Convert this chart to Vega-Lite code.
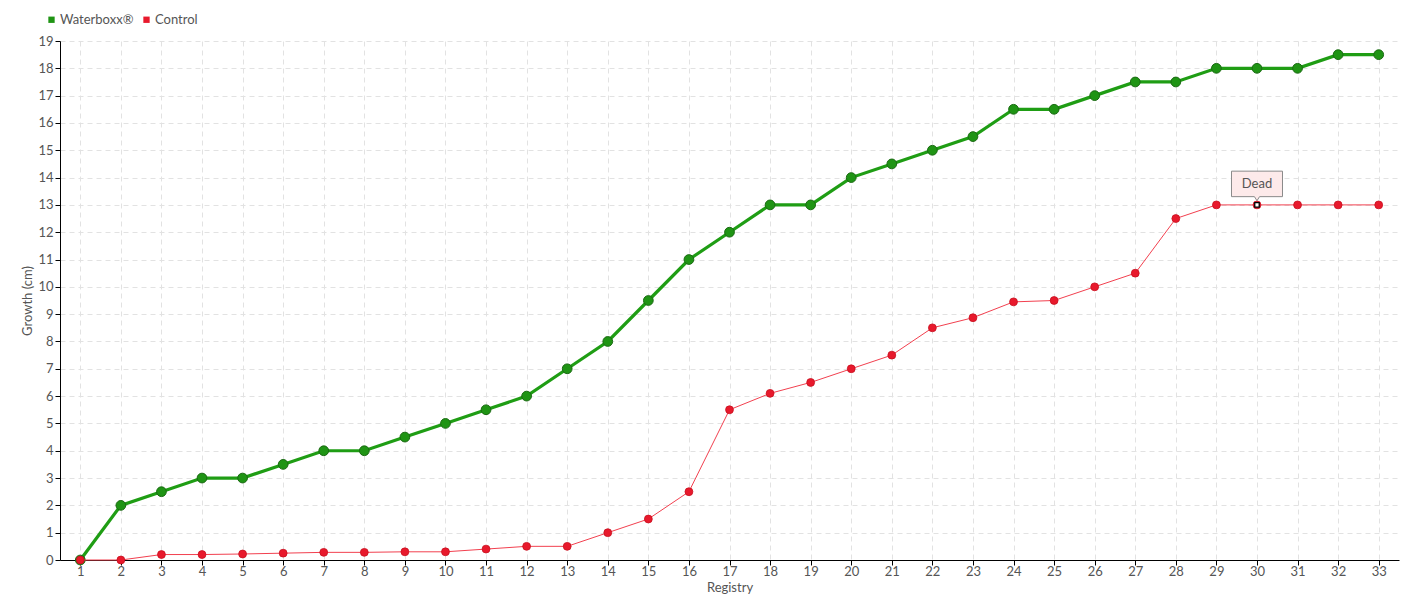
{
  "$schema": "https://vega.github.io/schema/vega-lite/v6.json",
  "autosize": "none",
  "width": 1339,
  "height": 519,
  "padding": {"left": 60, "top": 41, "right": 21, "bottom": 40},
  "background": "white",
  "config": {
    "font": "Lato, sans-serif",
    "view": {"stroke": null},
    "axis": {
      "labelFont": "Lato, sans-serif",
      "titleFont": "Lato, sans-serif",
      "labelColor": "#555555",
      "titleColor": "#555555",
      "labelFontSize": 13,
      "titleFontSize": 13,
      "titleFontWeight": "normal",
      "domainColor": "#000000",
      "tickColor": "#000000",
      "tickSize": 5,
      "gridColor": "#e2e2e2",
      "gridDash": [5, 4],
      "gridWidth": 1
    }
  },
  "data": {
    "values": [
      {"r": 1, "series": "Waterboxx®", "v": 0}, {"r": 2, "series": "Waterboxx®", "v": 2},
      {"r": 3, "series": "Waterboxx®", "v": 2.5}, {"r": 4, "series": "Waterboxx®", "v": 3},
      {"r": 5, "series": "Waterboxx®", "v": 3}, {"r": 6, "series": "Waterboxx®", "v": 3.5},
      {"r": 7, "series": "Waterboxx®", "v": 4}, {"r": 8, "series": "Waterboxx®", "v": 4},
      {"r": 9, "series": "Waterboxx®", "v": 4.5}, {"r": 10, "series": "Waterboxx®", "v": 5},
      {"r": 11, "series": "Waterboxx®", "v": 5.5}, {"r": 12, "series": "Waterboxx®", "v": 6},
      {"r": 13, "series": "Waterboxx®", "v": 7}, {"r": 14, "series": "Waterboxx®", "v": 8},
      {"r": 15, "series": "Waterboxx®", "v": 9.5}, {"r": 16, "series": "Waterboxx®", "v": 11},
      {"r": 17, "series": "Waterboxx®", "v": 12}, {"r": 18, "series": "Waterboxx®", "v": 13},
      {"r": 19, "series": "Waterboxx®", "v": 13}, {"r": 20, "series": "Waterboxx®", "v": 14},
      {"r": 21, "series": "Waterboxx®", "v": 14.5}, {"r": 22, "series": "Waterboxx®", "v": 15},
      {"r": 23, "series": "Waterboxx®", "v": 15.5}, {"r": 24, "series": "Waterboxx®", "v": 16.5},
      {"r": 25, "series": "Waterboxx®", "v": 16.5}, {"r": 26, "series": "Waterboxx®", "v": 17},
      {"r": 27, "series": "Waterboxx®", "v": 17.5}, {"r": 28, "series": "Waterboxx®", "v": 17.5},
      {"r": 29, "series": "Waterboxx®", "v": 18}, {"r": 30, "series": "Waterboxx®", "v": 18},
      {"r": 31, "series": "Waterboxx®", "v": 18}, {"r": 32, "series": "Waterboxx®", "v": 18.5},
      {"r": 33, "series": "Waterboxx®", "v": 18.5},
      {"r": 1, "series": "Control", "v": 0}, {"r": 2, "series": "Control", "v": 0},
      {"r": 3, "series": "Control", "v": 0.2}, {"r": 4, "series": "Control", "v": 0.2},
      {"r": 5, "series": "Control", "v": 0.22}, {"r": 6, "series": "Control", "v": 0.25},
      {"r": 7, "series": "Control", "v": 0.28}, {"r": 8, "series": "Control", "v": 0.28},
      {"r": 9, "series": "Control", "v": 0.3}, {"r": 10, "series": "Control", "v": 0.3},
      {"r": 11, "series": "Control", "v": 0.4}, {"r": 12, "series": "Control", "v": 0.5},
      {"r": 13, "series": "Control", "v": 0.5}, {"r": 14, "series": "Control", "v": 1},
      {"r": 15, "series": "Control", "v": 1.5}, {"r": 16, "series": "Control", "v": 2.5},
      {"r": 17, "series": "Control", "v": 5.5}, {"r": 18, "series": "Control", "v": 6.1},
      {"r": 19, "series": "Control", "v": 6.5}, {"r": 20, "series": "Control", "v": 7},
      {"r": 21, "series": "Control", "v": 7.5}, {"r": 22, "series": "Control", "v": 8.5},
      {"r": 23, "series": "Control", "v": 8.87}, {"r": 24, "series": "Control", "v": 9.45},
      {"r": 25, "series": "Control", "v": 9.5}, {"r": 26, "series": "Control", "v": 10},
      {"r": 27, "series": "Control", "v": 10.5}, {"r": 28, "series": "Control", "v": 12.5},
      {"r": 29, "series": "Control", "v": 13}, {"r": 30, "series": "Control", "v": 13, "note": "Dead"},
      {"r": 31, "series": "Control", "v": 13}, {"r": 32, "series": "Control", "v": 13},
      {"r": 33, "series": "Control", "v": 13}
    ]
  },
  "encoding": {
    "x": {
      "field": "r", "type": "ordinal", "title": "Registry",
      "scale": {"type": "point", "padding": 0.5},
      "axis": {"labelAngle": 0, "grid": true, "titlePadding": 3, "labelPadding": 0}
    },
    "y": {
      "field": "v", "type": "quantitative", "title": "Growth (cm)",
      "scale": {"domain": [0, 19], "nice": false},
      "axis": {"values": [0,1,2,3,4,5,6,7,8,9,10,11,12,13,14,15,16,17,18,19], "grid": true, "titlePadding": 3, "labelPadding": 2}
    }
  },
  "layer": [
    {
      "transform": [{"filter": "datum.series === 'Waterboxx®'"}],
      "mark": {"type": "line", "strokeWidth": 3.2, "color": "#1f9d14"}
    },
    {
      "transform": [{"filter": "datum.series === 'Waterboxx®'"}],
      "mark": {"type": "point", "filled": true, "size": 95, "stroke": "#1a6a12", "strokeWidth": 1, "opacity": 1},
      "encoding": {
        "color": {
          "field": "series", "type": "nominal",
          "scale": {"domain": ["Waterboxx®", "Control"], "range": ["#1f9414", "#e8192c"]},
          "legend": {
            "orient": "none", "legendX": -15, "legendY": -28, "direction": "horizontal",
            "title": null, "symbolType": "square", "symbolSize": 40, "symbolStrokeWidth": 0,
            "labelFontSize": 13, "labelColor": "#555555", "columnPadding": 6, "labelOffset": 2,
            "labelFont": "Lato, sans-serif"
          }
        }
      }
    },
    {
      "transform": [{"filter": "datum.series === 'Control'"}],
      "mark": {"type": "line", "strokeWidth": 1, "color": "#f2404f"}
    },
    {
      "transform": [{"filter": "datum.series === 'Control'"}],
      "mark": {"type": "point", "filled": true, "size": 62, "stroke": "#c8101f", "strokeWidth": 0.8, "opacity": 1},
      "encoding": {"color": {"field": "series", "type": "nominal"}}
    },
    {
      "transform": [{"filter": "datum.note === 'Dead'"}],
      "mark": {"type": "point", "shape": "square", "size": 20, "filled": true, "fill": "#ffffff", "stroke": "#000000", "strokeWidth": 1.3, "opacity": 1}
    },
    {
      "transform": [{"filter": "datum.note === 'Dead'"}],
      "mark": {
        "type": "point", "filled": true, "opacity": 1,
        "shape": "M-1,-0.5 L1,-0.5 L1,0.5 L0.1,0.5 L0,0.66 L-0.1,0.5 L-1,0.5 Z",
        "size": 2601, "fill": "#fdeaea", "stroke": "#8a8a8a", "strokeWidth": 1, "yOffset": -21
      }
    },
    {
      "transform": [{"filter": "datum.note === 'Dead'"}],
      "mark": {"type": "text", "fontSize": 13, "color": "#555555", "yOffset": -21, "baseline": "middle", "align": "center"},
      "encoding": {"text": {"field": "note"}}
    }
  ]
}
